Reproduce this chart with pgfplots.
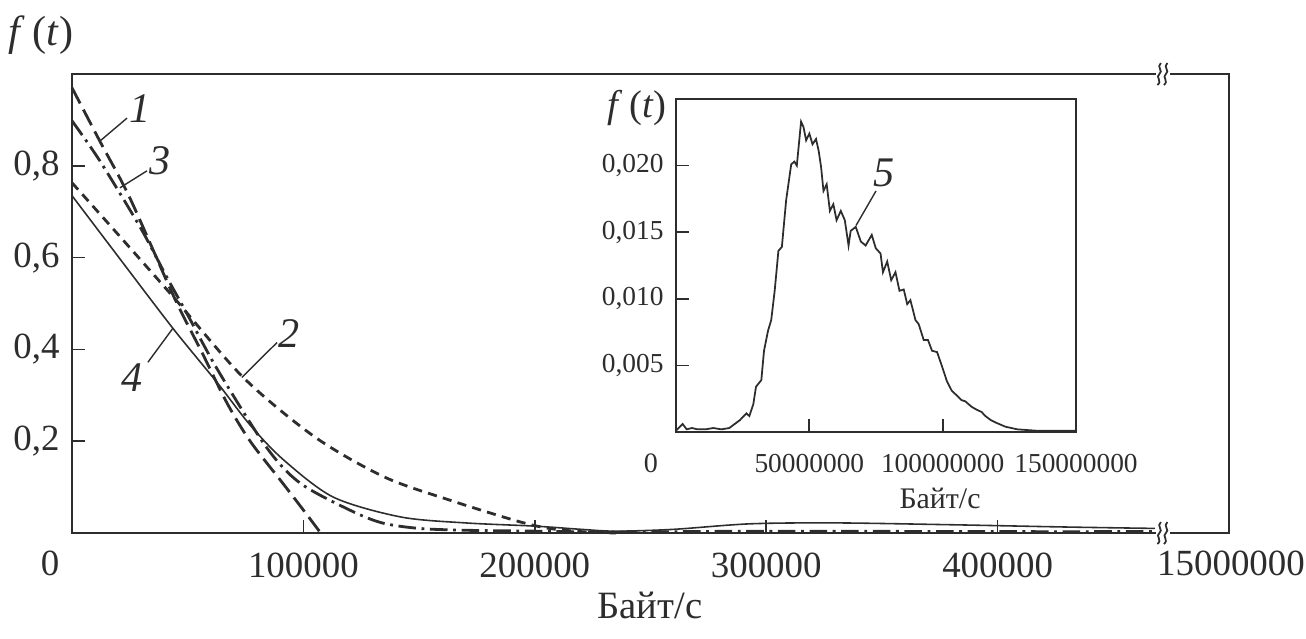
\documentclass[border=0pt]{standalone}
\usepackage{fontspec}
\setmainfont{Liberation Serif}
\usepackage{pgfplots}
\pgfplotsset{compat=1.18}
\definecolor{ink}{RGB}{45,45,45}
\tikzset{
  dlong/.style={ink,line width=0.8pt,dash pattern=on 5pt off 2pt},
  dshort/.style={ink,line width=0.8pt,dash pattern=on 2.6pt off 1.8pt},
  ddot/.style={ink,line width=0.8pt,dash pattern=on 5pt off 1.6pt on 0.8pt off 1.6pt},
  dthin/.style={ink,line width=0.45pt},
  lead/.style={ink,line width=0.4pt},
  num/.style={font=\fontsize{12}{14}\selectfont\itshape,text=ink},
}
\newcommand\brk{%
  \fill[white] (-0.06,-0.04) rectangle (0.08,0.04);
  \draw[ink,line width=0.5pt] (-0.045,-0.11) .. controls (0.01,-0.07) and (-0.07,-0.03) .. (-0.025,0.0)
     .. controls (0.02,0.03) and (-0.06,0.07) .. (-0.01,0.11);
  \draw[ink,line width=0.5pt] (0.02,-0.11) .. controls (0.075,-0.07) and (-0.005,-0.03) .. (0.04,0.0)
     .. controls (0.085,0.03) and (0.005,0.07) .. (0.055,0.11);
}
\begin{document}
\begin{tikzpicture}
\useasboundingbox (-0.72,-1.05) rectangle (12.34,5.33);
\begin{axis}[at={(0,0)},anchor=south west,scale only axis,
  width=11.57cm,height=4.59cm,
  xmin=0,xmax=500000,ymin=0,ymax=1,
  axis line style={ink,line width=0.6pt},
  tick style={ink,line width=0.5pt},
  tick align=inside,major tick length=0.13cm,
  xtick pos=bottom,ytick pos=left,
  scaled x ticks=false,scaled y ticks=false,
  xtick={100000,200000,300000,400000},
  xticklabels={100000,200000,300000,400000},
  ytick={0.2,0.4,0.6,0.8},
  yticklabels={{0,2},{0,4},{0,6},{0,8}},
  tick label style={font=\fontsize{10.5}{12}\selectfont,text=ink},
  xticklabel style={yshift=-0.08cm},
  clip=false]
\addplot[dlong,smooth] coordinates {(0,0.970)(12000,0.854)(25000,0.73)(44000,0.515)
  (56000,0.395)(67000,0.283)(77000,0.20)(91000,0.109)(100000,0.05)(107000,0.003)};
\addplot[dshort,smooth] coordinates {(0,0.763)(20000,0.65)(44000,0.513)(74000,0.339)
  (105000,0.209)(135000,0.122)(163000,0.072)(191000,0.028)(205000,0.011)(220000,0.003)(235000,0.0)};
\addplot[ddot,smooth] coordinates {(0,0.898)(12000,0.811)(29600,0.665)(41000,0.557)
  (50000,0.475)(63000,0.355)(84000,0.187)(98500,0.109)(120000,0.05)(134000,0.022)
  (150000,0.01)(170000,0.006)(200000,0.004)(235000,0.002)(300000,0.004)(400000,0.003)(468000,0.003)};
\addplot[dthin,smooth] coordinates {(0,0.735)(20000,0.602)(43600,0.446)(63000,0.326)
  (77000,0.235)(91500,0.159)(113000,0.078)(142000,0.035)(170000,0.022)(200000,0.015)
  (220000,0.008)(235000,0.004)(260000,0.008)(293000,0.02)(330000,0.022)(380000,0.018)
  (430000,0.013)(468000,0.01)};
\draw[lead] (axis cs:23800,0.904) -- (axis cs:12100,0.854);
\draw[lead] (axis cs:32400,0.789) -- (axis cs:20700,0.752);
\draw[lead] (axis cs:88600,0.415) -- (axis cs:73400,0.339);
\draw[lead] (axis cs:32800,0.372) -- (axis cs:43600,0.446);
\node[num] at (axis cs:29400,0.924) {1};
\node[num] at (axis cs:38000,0.811) {3};
\node[num] at (axis cs:94000,0.435) {2};
\node[num] at (axis cs:26000,0.339) {4};
\coordinate (bt) at (axis cs:471000,1);
\coordinate (bb) at (axis cs:471000,0);
\end{axis}
\begin{scope}[shift={(bt)}]\brk\end{scope}
\begin{scope}[shift={(bb)}]\brk\end{scope}
\begin{axis}[at={(6.04cm,1.01cm)},anchor=south west,scale only axis,
  width=4.00cm,height=3.33cm,
  xmin=0,xmax=150000000,ymin=0,ymax=0.025,
  axis line style={ink,line width=0.6pt},
  tick style={ink,line width=0.5pt},
  tick align=inside,major tick length=0.13cm,
  xtick pos=bottom,ytick pos=left,
  scaled x ticks=false,scaled y ticks=false,
  xtick={50000000,100000000,150000000},
  xticklabels={50000000,100000000,150000000},
  ytick={0.005,0.010,0.015,0.020},
  yticklabels={{0,005},{0,010},{0,015},{0,020}},
  tick label style={font=\fontsize{7.8}{9}\selectfont,text=ink},
  xticklabel style={yshift=-0.1cm},
  clip=false]
\addplot[dthin,line width=0.5pt] coordinates {(0,0.0001)(500000,0.0002)(2500000,0.0006)(4000000,0.0002)
  (6000000,0.0003)(8000000,0.0002)(11000000,0.0002)(14000000,0.0003)(17000000,0.0002)
  (20000000,0.0003)(22000000,0.0006)(24000000,0.0009)(26400000,0.0014)(27500000,0.0012)
  (29000000,0.0021)(30000000,0.0034)(32000000,0.0039)(33000000,0.0061)(34500000,0.0076)
  (35700000,0.0084)(37000000,0.0106)(38400000,0.0136)(39700000,0.0139)(41300000,0.0174)
  (43200000,0.0201)(44400000,0.0203)(45300000,0.0200)(46900000,0.0233)(47800000,0.0229)
  (48800000,0.0219)(50000000,0.0224)(51200000,0.0216)(52500000,0.0220)(53500000,0.0211)
  (54400000,0.0199)(55300000,0.0181)(56500000,0.0186)(57700000,0.0166)(59000000,0.0171)
  (60200000,0.0159)(61800000,0.0166)(63300000,0.0159)(64700000,0.0140)(65500000,0.0151)
  (67400000,0.0154)(69300000,0.0143)(71100000,0.0140)(73400000,0.0148)(74900000,0.0138)
  (76700000,0.0134)(77600000,0.0120)(79200000,0.0128)(80700000,0.0114)(82300000,0.0120)
  (83800000,0.0106)(85400000,0.0107)(86700000,0.0096)(87900000,0.0099)(89800000,0.0084)
  (91000000,0.0081)(92900000,0.0069)(94500000,0.0069)(96000000,0.0061)(97900000,0.0060)
  (99800000,0.0049)(101600000,0.0038)(103400000,0.0031)(105000000,0.0028)(107000000,0.0024)
  (108500000,0.0023)(110800000,0.0019)(112500000,0.0017)(114600000,0.0015)(116000000,0.0012)
  (118000000,0.0009)(120000000,0.0007)(123500000,0.0004)(128000000,0.0002)(135000000,0.0001)
  (150000000,0.0001)};
\draw[lead] (axis cs:75000000,0.0181) -- (axis cs:67500000,0.0155);
\node[num] at (axis cs:78000000,0.01946) {5};
\end{axis}
\node[text=ink,font=\fontsize{12}{14}\selectfont] at (-0.31,4.98) {\textit{f}\,(\textit{t})};
\node[text=ink,font=\fontsize{11}{13}\selectfont] at (5.65,4.25) {\textit{f}\,(\textit{t})};
\node[text=ink,font=\fontsize{10.5}{12}\selectfont] at (-0.22,-0.30) {0};
\node[text=ink,font=\fontsize{10.5}{12}\selectfont] at (11.59,-0.30) {15000000};
\node[text=ink,font=\fontsize{11}{13}\selectfont] at (5.78,-0.72) {Байт/с};
\node[text=ink,font=\fontsize{8}{10}\selectfont] at (5.79,0.70) {0};
\node[text=ink,font=\fontsize{8.5}{10}\selectfont] at (8.68,0.35) {Байт/с};
\end{tikzpicture}
\end{document}
